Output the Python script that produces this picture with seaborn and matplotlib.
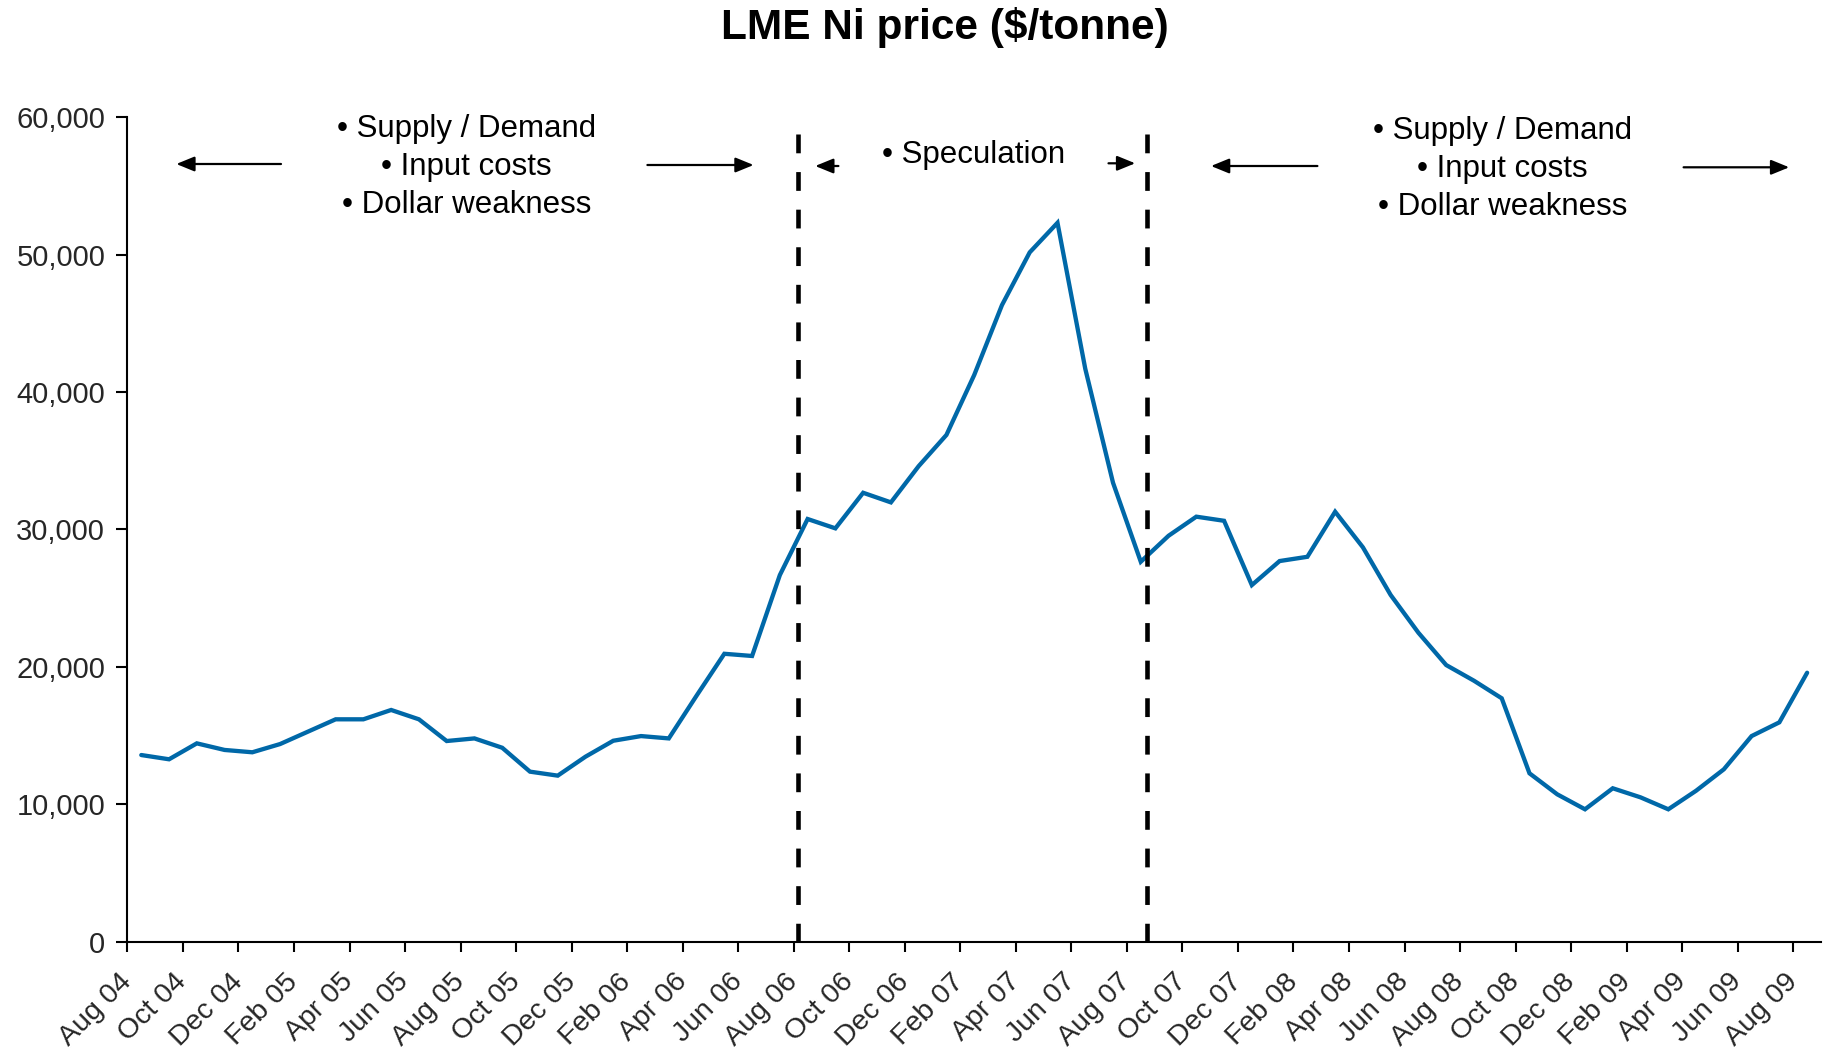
import numpy as np
import pandas as pd
import matplotlib
matplotlib.use("Agg")
import matplotlib.pyplot as plt
import seaborn as sns
from matplotlib.patches import FancyArrowPatch
from matplotlib.ticker import FuncFormatter

# ---------------- data ----------------
price = [13580, 13270, 14430, 13950, 13780, 14380, 15280, 16180, 16180, 16860,
         16180, 14600, 14790, 14110, 12370, 12080, 13460, 14620, 14960, 14790,
         17900, 20950, 20790, 26680, 30760, 30080, 32670, 31970, 34610, 36880,
         41240, 46330, 50170, 52320, 41700, 33400, 27650, 29540, 30930, 30630,
         25950, 27700, 28010, 31290, 28700, 25230, 22480, 20130, 18990, 17710,
         12250, 10720, 9630, 11160, 10500, 9630, 10980, 12540, 14960, 15960,
         19570]
months = pd.period_range("2004-08", "2009-08", freq="M").strftime("%b %y").tolist()
tick_labels = ["Aug 04", "Oct 04", "Dec 04", "Feb 05", "Apr 05", "Jun 05", "Aug 05",
               "Oct 05", "Dec 05", "Feb 06", "Apr 06", "Jun 06", "Aug 06", "Oct 06",
               "Dec 06", "Feb 07", "Apr 07", "Jun 07", "Aug 07", "Oct 07", "Dec 07",
               "Feb 08", "Apr 08", "Jun 08", "Aug 08", "Oct 08", "Dec 08", "Feb 09",
               "Apr 09", "Jun 09", "Aug 09"]
y_ticks = [0, 10000, 20000, 30000, 40000, 50000, 60000]
phase_breaks = [23.66, 36.23]   # positions (in month index) of the dashed separators

left_text = "• Supply / Demand\n• Input costs\n• Dollar weakness"
mid_text = "• Speculation"
right_text = "• Supply / Demand\n• Input costs\n• Dollar weakness"
title = "LME Ni price ($/tonne)"

df = pd.DataFrame({"idx": np.arange(len(price)), "month": months, "price": price})

# ---------------- style ----------------
sns.set_theme(style="ticks")
plt.rcParams["font.family"] = ["Liberation Sans", "DejaVu Sans"]

W, H = 1829, 1055
fig = plt.figure(figsize=(W / 100, H / 100), dpi=100)
ax_left, ax_right, ax_bottom, ax_top = 127.4, 1821, 941.6, 117.3
ax = fig.add_axes([ax_left / W, 1 - ax_bottom / H, (ax_right - ax_left) / W,
                   (ax_bottom - ax_top) / H])

sns.lineplot(data=df, x="idx", y="price", ax=ax, color="#0068A8", lw=3.1,
             solid_joinstyle="miter")

for xb in phase_breaks:
    ax.plot([xb, xb], [58750, 0], color="black", lw=3.3, dashes=(4.1, 4.1),
            dash_capstyle="butt")

ax.set_xlim(-0.5, len(price) - 0.5)
ax.set_ylim(0, 60000)
ax.set_xticks(np.arange(-0.5, len(price) - 1, 2))
ax.set_xticklabels(tick_labels, rotation=45, ha="right", va="center",
                   rotation_mode="anchor", fontsize=20.5)
ax.set_yticks(y_ticks)
ax.yaxis.set_major_formatter(FuncFormatter(lambda v, p: f"{int(v):,}"))
ax.tick_params(axis="y", labelsize=21, length=8, width=1.5, pad=8, color="black")
ax.tick_params(axis="x", length=7, width=1.5, pad=19, color="black")
ax.set_xlabel("")
ax.set_ylabel("")
for s in ["top", "right"]:
    ax.spines[s].set_visible(False)
for s in ["left", "bottom"]:
    ax.spines[s].set_linewidth(1.5)
    ax.spines[s].set_color("black")

# ---------------- annotations ----------------
fig.text(945 / W, 1 - 27 / H, title, ha="center", va="center", fontsize=30.5,
         fontweight="bold", color="black")

def ftext(x, y, s):
    fig.text(x / W, 1 - y / H, s, ha="center", va="center", fontsize=22.5,
             linespacing=1.36, multialignment="center", color="black")

ftext(466.5, 167, left_text)
ftext(973.4, 155, mid_text)
ftext(1502.5, 169, right_text)

def farrow(x0, y0, x1, y1):
    a = FancyArrowPatch((x0 / W, 1 - y0 / H), (x1 / W, 1 - y1 / H),
                        transform=fig.transFigure,
                        arrowstyle="-|>,head_length=1.1,head_width=0.45",
                        mutation_scale=10, lw=1.6, color="black",
                        shrinkA=0, shrinkB=0)
    fig.add_artist(a)

farrow(281, 164, 176.3, 164)
farrow(647.4, 165, 753.6, 165)
farrow(838.4, 166, 815.2, 166)
farrow(1108.5, 163.3, 1135.2, 163.3)
farrow(1317.4, 166, 1211, 166)
farrow(1683.6, 167.3, 1789.2, 167.3)

fig.savefig("out.png", dpi=100, facecolor="white")
